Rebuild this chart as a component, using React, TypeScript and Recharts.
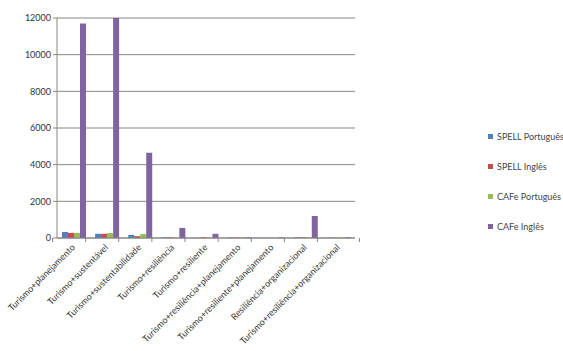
import React from 'react';
import { BarChart, Bar, XAxis, YAxis, CartesianGrid, Legend } from 'recharts';

const categories = [
  'Turismo+planejamento',
  'Turismo+sustentável',
  'Turismo+sustentabilidade',
  'Turismo+resiliência',
  'Turismo+resiliente',
  'Turismo+resiliência+planejamento',
  'Turismo+resiliente+planejamento',
  'Resiliência+organizacional',
  'Turismo+resiliência+organizacional',
];

const spellPortugues = [330, 230, 170, 40, 10, 30, 5, 40, 20];
const spellIngles = [280, 230, 100, 40, 40, 30, 5, 40, 20];
const cafePortugues = [280, 270, 220, 30, 20, 30, 5, 40, 30];
const cafeIngles = [11700, 12000, 4650, 550, 230, 40, 40, 1200, 40];

const yTicks = [0, 2000, 4000, 6000, 8000, 10000, 12000];

const series = [
  { key: 'spellPt', name: 'SPELL Português', color: '#4F81BD' },
  { key: 'spellEn', name: 'SPELL Inglês', color: '#C0504D' },
  { key: 'cafePt', name: 'CAFe Português', color: '#9BBB59' },
  { key: 'cafeEn', name: 'CAFe Inglês', color: '#8064A2' },
];

const data = categories.map((name, i) => ({
  name,
  spellPt: spellPortugues[i],
  spellEn: spellIngles[i],
  cafePt: cafePortugues[i],
  cafeEn: cafeIngles[i],
}));

const FONT = 'Lato, "Open Sans", sans-serif';

const CategoryTick = (props: any) => {
  const { x, y, payload, index } = props;
  const half = 21;
  return (
    <g>
      <line x1={x - half} y1={y} x2={x - half} y2={y + 4} stroke="#868686" />
      {index === categories.length - 1 && (
        <line x1={x + half} y1={y} x2={x + half} y2={y + 4} stroke="#868686" />
      )}
      <text
        x={x + 2}
        y={y + 10}
        textAnchor="end"
        transform={`rotate(-45, ${x + 2}, ${y + 10})`}
        fontSize={9}
        fontFamily={FONT}
        fill="#333"
      >
        {payload.value}
      </text>
    </g>
  );
};

const LegendBox = () => (
  <div style={{ fontFamily: FONT, fontSize: 9, color: '#444', whiteSpace: 'nowrap' }}>
    {series.map((s) => (
      <div key={s.key} style={{ display: 'flex', alignItems: 'center', height: 30 }}>
        <span style={{ display: 'inline-block', width: 5, height: 5, background: s.color, marginRight: 4 }} />
        {s.name}
      </div>
    ))}
  </div>
);

export default function App() {
  return (
    <div style={{ position: 'absolute', left: 0, top: 0, width: 563, height: 351, background: '#fff' }}>
      <BarChart
        width={563}
        height={351}
        data={data}
        margin={{ top: 18, right: 128, left: 0, bottom: 0 }}
        barGap={0}
        barCategoryGap={5}
      >
        <CartesianGrid vertical={false} stroke="#868686" />
        <XAxis
          dataKey="name"
          interval={0}
          height={113}
          stroke="#868686"
          tickLine={false}
          tickSize={0}
          tickMargin={0}
          tick={<CategoryTick />}
        />
        <YAxis
          width={57}
          domain={[0, 12000]}
          ticks={yTicks}
          allowDataOverflow
          stroke="#868686"
          tickSize={4}
          tick={{ fontSize: 9, fontFamily: FONT, fill: '#333' }}
        />
        <Legend
          layout="vertical"
          align="right"
          verticalAlign="top"
          wrapperStyle={{ left: 488, top: 121, width: 80 }}
          content={<LegendBox />}
        />
        {series.map((s) => (
          <Bar key={s.key} dataKey={s.key} name={s.name} fill={s.color} isAnimationActive={false} />
        ))}
      </BarChart>
    </div>
  );
}
